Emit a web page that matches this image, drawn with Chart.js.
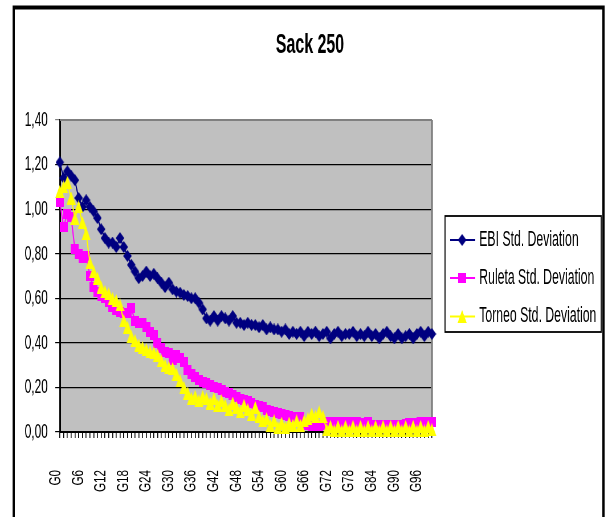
<!DOCTYPE html>
<html><head><meta charset="utf-8">
<script src="https://cdn.jsdelivr.net/npm/chart.js@4"></script>
<style>
html,body{margin:0;padding:0;background:#fff;overflow:hidden;width:608px;height:517px;}
#wrap{position:absolute;left:0;top:0;width:1067px;height:517px;transform:scaleX(0.569822);transform-origin:0 0;}
canvas{display:block;}
</style></head><body>
<div id="wrap"><canvas id="c" width="1067" height="517"></canvas></div>
<script>
const titleText = 'Sack 250';
const seriesNames = ['EBI Std. Deviation', 'Ruleta Std. Deviation', 'Torneo Std. Deviation'];
const categories = ['G0','G1','G2','G3','G4','G5','G6','G7','G8','G9',
 'G10','G11','G12','G13','G14','G15','G16','G17','G18','G19',
 'G20','G21','G22','G23','G24','G25','G26','G27','G28','G29',
 'G30','G31','G32','G33','G34','G35','G36','G37','G38','G39',
 'G40','G41','G42','G43','G44','G45','G46','G47','G48','G49',
 'G50','G51','G52','G53','G54','G55','G56','G57','G58','G59',
 'G60','G61','G62','G63','G64','G65','G66','G67','G68','G69',
 'G70','G71','G72','G73','G74','G75','G76','G77','G78','G79',
 'G80','G81','G82','G83','G84','G85','G86','G87','G88','G89',
 'G90','G91','G92','G93','G94','G95','G96','G97','G98','G99'];
const shownXLabels = ['G0','G6','G12','G18','G24','G30','G36','G42','G48','G54','G60','G66','G72','G78','G84','G90','G96'];
const yTickLabels = ['0,00','0,20','0,40','0,60','0,80','1,00','1,20','1,40'];

const ebi = [1.21,1.14,1.17,1.15,1.13,1.05,1.01,1.04,1.01,0.99,
 0.96,0.91,0.87,0.85,0.85,0.83,0.87,0.83,0.79,0.75,
 0.72,0.69,0.70,0.72,0.70,0.71,0.69,0.67,0.65,0.67,
 0.64,0.63,0.625,0.615,0.61,0.60,0.60,0.58,0.55,0.51,
 0.50,0.52,0.50,0.52,0.51,0.50,0.52,0.49,0.49,0.48,
 0.49,0.48,0.48,0.47,0.48,0.46,0.47,0.46,0.46,0.45,
 0.46,0.44,0.45,0.44,0.45,0.43,0.45,0.44,0.45,0.43,
 0.44,0.45,0.42,0.44,0.45,0.43,0.44,0.44,0.45,0.43,
 0.44,0.43,0.45,0.43,0.44,0.42,0.44,0.45,0.43,0.42,
 0.44,0.42,0.43,0.44,0.42,0.44,0.45,0.43,0.45,0.44];
const ruleta = [1.03,0.92,0.98,0.965,0.82,0.80,0.78,0.79,0.70,0.65,
 0.63,0.61,0.60,0.584,0.56,0.547,0.54,0.532,0.532,0.555,
 0.50,0.49,0.487,0.472,0.45,0.435,0.40,0.375,0.36,0.353,
 0.323,0.345,0.33,0.315,0.278,0.26,0.245,0.235,0.226,0.218,
 0.21,0.203,0.196,0.19,0.18,0.173,0.165,0.158,0.15,0.145,
 0.14,0.13,0.121,0.115,0.11,0.10,0.095,0.09,0.085,0.08,
 0.076,0.072,0.069,0.069,0.069,0.035,0.03,0.025,0.025,0.025,
 0.03,0.045,0.04,0.045,0.04,0.045,0.04,0.045,0.04,0.045,
 0.04,0.04,0.045,0.03,0.025,0.03,0.025,0.03,0.025,0.03,
 0.025,0.03,0.035,0.04,0.035,0.04,0.045,0.04,0.045,0.045];
const torneo = [1.08,1.10,1.12,1.05,0.96,1.01,0.94,0.89,0.76,0.72,
 0.69,0.65,0.63,0.62,0.60,0.59,0.57,0.50,0.47,0.43,
 0.41,0.39,0.38,0.37,0.36,0.355,0.345,0.32,0.30,0.29,
 0.285,0.26,0.23,0.20,0.175,0.15,0.16,0.14,0.16,0.15,
 0.13,0.15,0.12,0.14,0.12,0.10,0.13,0.11,0.09,0.12,
 0.10,0.08,0.11,0.07,0.05,0.06,0.03,0.05,0.02,0.04,
 0.02,0.04,0.03,0.05,0.03,0.05,0.06,0.08,0.07,0.09,
 0.07,0.01,0.025,0.005,0.025,0.005,0.025,0.005,0.025,0.005,
 0.025,0.005,0.025,0.005,0.025,0.005,0.025,0.005,0.025,0.005,
 0.025,0.005,0.025,0.005,0.025,0.005,0.025,0.005,0.025,0.01];

const FONT = "'Liberation Sans', Arial, sans-serif";
const colors = ['#000080', '#FF00FF', '#FFFF00'];

function makeMarker(kind, color, w, h) {
  const c = document.createElement('canvas');
  c.width = w; c.height = h;
  const g = c.getContext('2d');
  g.fillStyle = color;
  g.beginPath();
  if (kind === 'diamond') { g.moveTo(w/2,0); g.lineTo(w,h/2); g.lineTo(w/2,h); g.lineTo(0,h/2); }
  else if (kind === 'square') { g.rect(0,0,w,h); }
  else { g.moveTo(w/2,0); g.lineTo(w,h); g.lineTo(0,h); }
  g.closePath(); g.fill();
  return c;
}
const markers = [
  makeMarker('diamond', colors[0], 15, 12),
  makeMarker('square', colors[1], 14, 10),
  makeMarker('triangle', colors[2], 16, 13)
];

const decor = {
  id: 'decor',
  beforeDraw(chart) {
    const ctx = chart.ctx, a = chart.chartArea;
    ctx.save();
    ctx.fillStyle = '#fff';
    ctx.fillRect(0, 0, chart.width, chart.height);
    ctx.strokeStyle = '#000';
    ctx.lineWidth = 4;
    ctx.beginPath();
    ctx.moveTo(24, 540); ctx.lineTo(24, 7.5); ctx.lineTo(1059, 7.5); ctx.lineTo(1059, 540);
    ctx.stroke();
    ctx.fillStyle = '#C0C0C0';
    ctx.fillRect(a.left, a.top, a.right - a.left, a.bottom - a.top);
    ctx.fillStyle = '#000';
    ctx.font = 'bold 28px ' + FONT;
    ctx.textAlign = 'center';
    ctx.textBaseline = 'alphabetic';
    ctx.fillText(titleText, 544, 53);
    ctx.restore();
  },
  beforeDatasetsDraw(chart) {
    const ctx = chart.ctx, a = chart.chartArea;
    ctx.save();
    ctx.strokeStyle = '#808080';
    ctx.lineWidth = 3.5;
    ctx.beginPath();
    ctx.moveTo(a.right, a.bottom); ctx.lineTo(a.right, a.top);
    ctx.stroke();
    ctx.lineWidth = 2;
    ctx.beginPath();
    ctx.moveTo(a.left, a.top); ctx.lineTo(a.right, a.top);
    ctx.stroke();
    ctx.restore();
  },
  afterDraw(chart) {
    const ctx = chart.ctx;
    ctx.save();
    const xs = chart.scales.x;
    ctx.fillStyle = '#000';
    ctx.font = '29px ' + FONT;
    ctx.textAlign = 'right';
    ctx.textBaseline = 'middle';
    categories.forEach((c, i) => {
      if (!shownXLabels.includes(c)) return;
      const x = xs.getPixelForValue(i) - 7;
      ctx.save();
      ctx.translate(x, 470);
      ctx.rotate(-Math.PI / 2);
      ctx.scale(0.4, 1);
      ctx.fillText(c, 0, 0);
      ctx.restore();
    });
    const bx = 781, by = 216, bw = 274, bh = 116;
    ctx.strokeStyle = '#000';
    ctx.lineWidth = 1.8;
    ctx.strokeRect(bx, by, bw, bh);
    const ys = [240, 278, 316.5];
    ctx.font = '21.5px ' + FONT;
    ctx.textBaseline = 'middle';
    ctx.textAlign = 'left';
    for (let i = 0; i < 3; i++) {
      ctx.strokeStyle = colors[i];
      ctx.lineWidth = 2;
      ctx.beginPath();
      ctx.moveTo(790, ys[i]); ctx.lineTo(834, ys[i]);
      ctx.stroke();
      const m = markers[i];
      ctx.drawImage(m, 811 - m.width/2, ys[i] - m.height/2);
      ctx.fillStyle = '#000';
      ctx.fillText(seriesNames[i], 841, ys[i]);
    }
    ctx.restore();
  }
};

const series = [ebi, ruleta, torneo];
new Chart(document.getElementById('c'), {
  type: 'line',
  data: {
    labels: categories,
    datasets: series.map((d, i) => ({
      label: seriesNames[i],
      data: d,
      borderColor: colors[i],
      backgroundColor: colors[i],
      borderWidth: 2,
      pointStyle: markers[i],
      pointRadius: 5,
      tension: 0,
      fill: false,
      clip: false,
      order: 3 - i
    }))
  },
  options: {
    responsive: false,
    animation: false,
    devicePixelRatio: 1,
    layout: { padding: { left: 0, right: 309, top: 120, bottom: 0 } },
    plugins: {
      legend: { display: false },
      tooltip: { enabled: false },
      title: { display: false }
    },
    scales: {
      x: {
        type: 'category',
        offset: false,
        grid: { display: true, drawOnChartArea: false, drawTicks: true, tickLength: 6, color: '#000', lineWidth: 1.6 },
        border: { display: true, color: '#000', width: 2 },
        ticks: { display: false, autoSkip: false },
        afterFit(s) { s.height = 85; }
      },
      y: {
        min: 0, max: 1.4,
        ticks: {
          stepSize: 0.2, padding: 13, color: '#000',
          font: { family: FONT, size: 21 },
          callback: (v) => yTickLabels[Math.round(v / 0.2)]
        },
        grid: {
          color: (c) => (c.tick && c.tick.value >= 1.39) ? '#808080' : '#000',
          lineWidth: 1.2, tickLength: 8, drawTicks: true
        },
        border: { color: '#000', width: 3 },
        afterFit(s) { s.width = 105; }
      }
    }
  },
  plugins: [decor]
});
</script></body></html>
